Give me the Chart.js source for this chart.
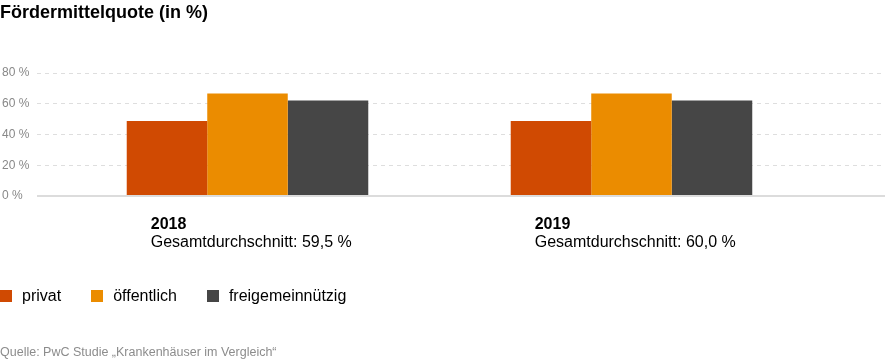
<!DOCTYPE html>
<html>
<head>
<meta charset="utf-8">
<script src="https://cdn.jsdelivr.net/npm/chart.js@4/dist/chart.umd.min.js"></script>
<style>
  html, body { margin: 0; padding: 0; background: #fff; }
  body { width: 885px; height: 362px; position: relative; overflow: hidden; font-family: "Liberation Sans", Arial, Helvetica, sans-serif; }
  #wrap { position: absolute; left: 0; top: 0; width: 885px; height: 362px; }
  #title { position: absolute; left: 0; top: 1px; font-size: 18px; font-weight: bold; line-height: 22px; color: #000; white-space: nowrap; }
  #legend { position: absolute; left: 0; top: 286px; height: 20px; display: flex; align-items: center; font-size: 16px; color: #000; white-space: nowrap; }
  #legend .item { display: flex; align-items: center; margin-right: 30px; }
  #legend .box { width: 12px; height: 12px; margin-right: 10px; }
  #source { position: absolute; left: 0; top: 344px; font-size: 12.5px; line-height: 16px; color: #8c8c8c; white-space: nowrap; }
</style>
</head>
<body>
<div id="wrap"><canvas id="c"></canvas></div>
<div id="title">Fördermittelquote (in %)</div>
<div id="legend"></div>
<div id="source">Quelle: PwC Studie „Krankenhäuser im Vergleich“</div>
<script>
// ---- data ----
const years = ['2018', '2019'];
const averages = ['Gesamtdurchschnitt: 59,5 %', 'Gesamtdurchschnitt: 60,0 %'];
const seriesNames = ['privat', 'öffentlich', 'freigemeinnützig'];
const privat = [48.8, 48.8];
const oeffentlich = [66.6, 66.6];
const freigemeinnuetzig = [62.1, 62.1];
const yTicks = [0, 20, 40, 60, 80];
const colors = ['#d04a02', '#eb8c00', '#464646'];

const seriesValues = [privat, oeffentlich, freigemeinnuetzig];

const datasets = seriesNames.map((name, s) => ({
  label: name,
  data: years.map((y, i) => ({ x: i, y: seriesValues[s][i] })),
  backgroundColor: colors[s],
  borderWidth: 0,
  categoryPercentage: 0.629,
  barPercentage: 1.0
}));

// HTML legend built from the series
const legendEl = document.getElementById('legend');
seriesNames.forEach((name, s) => {
  const item = document.createElement('div');
  item.className = 'item';
  const box = document.createElement('div');
  box.className = 'box';
  box.style.background = colors[s];
  const txt = document.createElement('span');
  txt.textContent = name;
  item.appendChild(box);
  item.appendChild(txt);
  legendEl.appendChild(item);
});

const categoryLabels = {
  id: 'categoryLabels',
  afterDraw(chart) {
    const ctx = chart.ctx;
    const meta = chart.getDatasetMeta(0);
    ctx.save();
    ctx.fillStyle = '#000';
    ctx.textAlign = 'left';
    ctx.textBaseline = 'middle';
    years.forEach((y, i) => {
      const bar = meta.data[i];
      const left = bar.x - bar.width / 2 + 24;
      ctx.font = 'bold 16px "Liberation Sans", Arial, sans-serif';
      ctx.fillText(y, left, 225);
      ctx.font = '16px "Liberation Sans", Arial, sans-serif';
      ctx.fillText(averages[i], left, 243);
    });
    ctx.restore();
  }
};

new Chart(document.getElementById('c'), {
  type: 'bar',
  data: { datasets },
  plugins: [categoryLabels],
  options: {
    responsive: true,
    maintainAspectRatio: false,
    animation: false,
    layout: { padding: { top: 73, bottom: 166, left: 2, right: 0 } },
    plugins: { legend: { display: false }, tooltip: { enabled: false }, title: { display: false } },
    scales: {
      x: {
        type: 'linear',
        display: false,
        offset: false,
        min: -0.5482,
        max: 1.6602,
        afterBuildTicks(scale) { scale.ticks = years.map((y, i) => ({ value: i })); },
        grid: { display: false }
      },
      y: {
        min: 0,
        max: 80,
        afterBuildTicks(scale) { scale.ticks = yTicks.map(v => ({ value: v })); },
        afterFit(scale) { scale.width = 35; },
        border: {
          display: false,
          dash: (ctx) => (ctx.tick && ctx.tick.value === 0) ? [] : [4, 4]
        },
        grid: {
          drawTicks: false,
          color: (ctx) => (ctx.tick && ctx.tick.value === 0) ? '#dcdcdc' : '#dedede',
          lineWidth: (ctx) => (ctx.tick && ctx.tick.value === 0) ? 2 : 1
        },
        ticks: {
          crossAlign: 'far',
          padding: 8,
          color: '#888888',
          font: { family: '"Liberation Sans", Arial, sans-serif', size: 12 },
          callback: (v) => v + ' %'
        }
      }
    }
  }
});
</script>
</body>
</html>
